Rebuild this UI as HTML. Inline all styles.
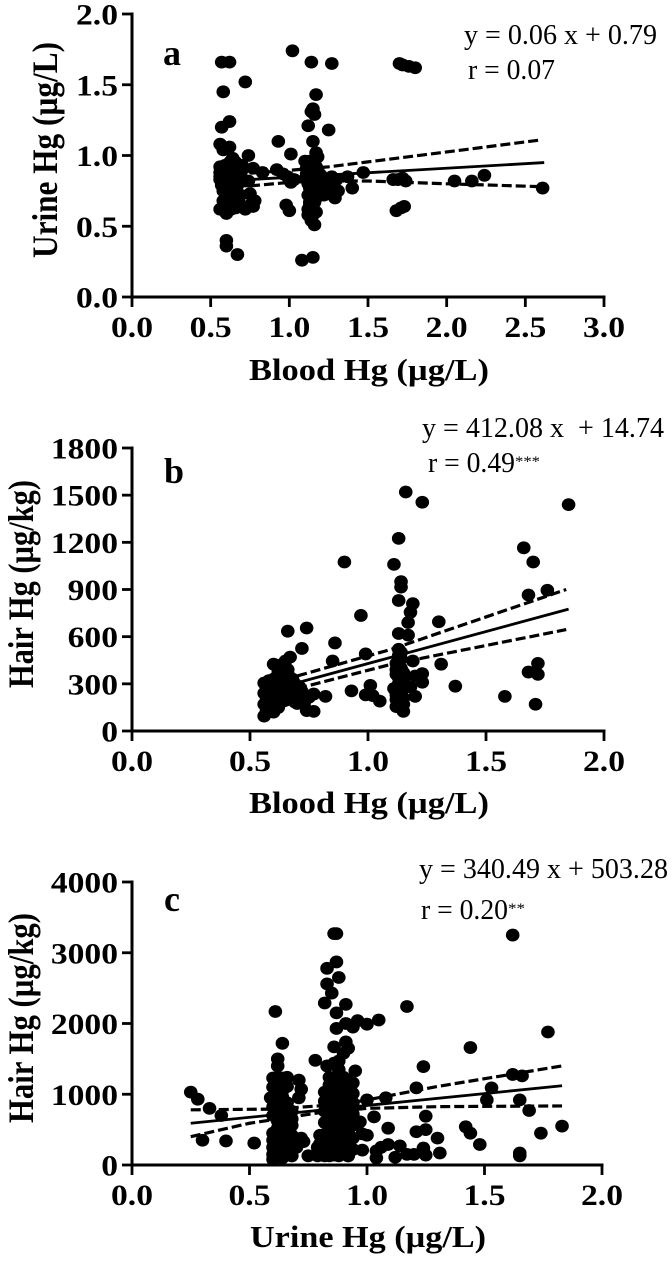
<!DOCTYPE html>
<html lang="en">
<head>
<meta charset="utf-8">
<title>Correlations of Hg in blood, urine and hair</title>
<style>
html,body{margin:0;padding:0;background:#fff;}
svg{display:block;font-family:"Liberation Serif",serif;}
</style>
</head>
<body>
<svg id="figure" xmlns="http://www.w3.org/2000/svg" width="672" height="1261" viewBox="0 0 672 1261">
<rect width="672" height="1261" fill="#fff"/>

<g id="panel-a"></g>
<g id="panel-b"></g>
<g id="panel-c"></g>

<g fill="#000" font-weight="bold">
<text x="163" y="65" font-size="36">a</text>
<text x="164" y="483" font-size="36">b</text>
<text x="164" y="911" font-size="36">c</text>
<text x="249" y="380" font-size="31" textLength="240" lengthAdjust="spacingAndGlyphs">Blood Hg (µg/L)</text>
<text x="249" y="813" font-size="31" textLength="240" lengthAdjust="spacingAndGlyphs">Blood Hg (µg/L)</text>
<text x="250" y="1247" font-size="31" textLength="236" lengthAdjust="spacingAndGlyphs">Urine Hg (µg/L)</text>
<text transform="translate(57,258) rotate(-90)" font-size="36" textLength="216" lengthAdjust="spacingAndGlyphs">Urine Hg (µg/L)</text>
<text transform="translate(33,688) rotate(-90)" font-size="36" textLength="208" lengthAdjust="spacingAndGlyphs">Hair Hg (µg/kg)</text>
<text transform="translate(33,1123) rotate(-90)" font-size="36" textLength="210" lengthAdjust="spacingAndGlyphs">Hair Hg (µg/kg)</text>
</g>

<g fill="#000" font-size="28">
<text x="464" y="44" textLength="193" lengthAdjust="spacingAndGlyphs">y = 0.06 x + 0.79</text>
<text x="468" y="79" textLength="87" lengthAdjust="spacingAndGlyphs">r = 0.07</text>
<text x="422" y="437" textLength="242" lengthAdjust="spacingAndGlyphs">y = 412.08 x&#160;&#160;+ 14.74</text>
<text x="428" y="472" textLength="87" lengthAdjust="spacingAndGlyphs">r = 0.49</text>
<text x="515" y="466" font-size="15" textLength="25" lengthAdjust="spacingAndGlyphs">***</text>
<text x="419" y="878" textLength="249" lengthAdjust="spacingAndGlyphs">y = 340.49 x + 503.28</text>
<text x="421" y="919" textLength="87" lengthAdjust="spacingAndGlyphs">r = 0.20</text>
<text x="508" y="913" font-size="15" textLength="17" lengthAdjust="spacingAndGlyphs">**</text>
</g>
</svg>

<script>
/* ---------- Panel a: blood Hg vs urine Hg ---------- */
const aBlood = [.57,.62,1.02,1.14,1.27,1.70,1.72,1.76,1.80,.72,.58,1.17,1.15,1.14,1.16,.62,.57,1.12,1.25,.56,.62,.58,.93,1.15,1.01,.74,1.17,.64,.66,.70,.56,.59,.62,.64,.67,.70,.56,.58,.60,.63,.66,.69,.56,.59,.62,.65,.68,.56,.58,.61,.64,.67,.72,.74,.77,.83,.92,.96,1.0,1.03,1.01,.99,.57,.60,.64,.66,.69,.75,.66,.58,.60,.63,.66,.69,.76,.78,.77,.56,.59,.60,.63,.66,.72,.98,1.0,.60,.60,.67,1.08,1.15,1.16,1.14,1.12,1.14,1.15,1.13,1.14,1.15,1.14,1.17,1.20,1.22,1.25,1.11,1.13,1.15,1.18,1.21,1.24,1.11,1.14,1.17,1.20,1.11,1.14,1.17,1.13,1.16,1.18,1.27,1.30,1.29,1.31,1.37,1.40,1.47,1.66,1.69,1.72,1.74,1.68,1.71,1.73,2.05,2.16,2.24,2.61,
.57,.60,.63,.66,.69,.58,.61,.64,.67,.59,.62,.65,.68,.61,.64,.67,.62,.65,.63,.60,.62,.64,.58,.66,
1.10,1.12,1.14,1.16,1.18,1.12,1.15,1.18,1.13,1.16,1.19,1.12,1.15,1.17,1.13,1.16,1.14,1.12,1.15,1.17];
const aUrine = [1.66,1.66,1.74,1.66,1.65,1.65,1.64,1.63,1.62,1.52,1.45,1.43,1.33,1.31,1.29,1.24,1.20,1.21,1.18,1.08,1.06,1.04,1.10,1.10,1.01,1.00,1.02,.98,.95,.93,.92,.93,.93,.91,.92,.90,.88,.89,.88,.88,.87,.87,.85,.85,.85,.84,.84,.83,.82,.82,.81,.81,.82,.82,.91,.88,.90,.87,.83,.83,.81,.85,.79,.78,.76,.74,.72,.73,.70,.68,.66,.67,.66,.65,.66,.68,.64,.62,.61,.59,.62,.63,.62,.65,.61,.40,.36,.30,.26,.28,.51,.54,.62,.60,.63,.65,.68,.72,.76,.79,.74,.72,.76,.83,.85,.83,.84,.82,.83,.87,.89,.87,.86,.91,.93,.92,.96,.95,.99,.85,.83,.70,.75,.85,.77,.88,.83,.83,.84,.82,.61,.63,.64,.82,.82,.86,.77,
.90,.90,.90,.90,.90,.86,.86,.86,.86,.83,.83,.83,.83,.79,.79,.79,.95,.93,.76,.72,.70,.70,.75,.77,
.96,.94,.96,.90,.90,.80,.80,.80,.77,.77,.77,.72,.72,.70,.67,.67,.63,.58,.58,.60];
const aFitX = [.75,2.62];
const aFitY = [.83,.95];
const aUpperX = [.75,1,1.25,1.5,2,2.6];
const aUpperY = [.875,.895,.92,.955,1.025,1.11];
const aLowerX = [.75,1,1.2,1.5,2,2.6];
const aLowerY = [.785,.81,.82,.82,.80,.78];
const aXTicks = ["0.0","0.5","1.0","1.5","2.0","2.5","3.0"];
const aYTicks = ["0.0","0.5","1.0","1.5","2.0"];

/* ---------- Panel b: blood Hg vs hair Hg ---------- */
const bBlood = [1.16,1.23,1.85,1.13,1.66,.90,1.11,1.70,1.14,1.14,1.13,1.19,1.18,1.76,1.68,.97,1.17,1.30,.66,.74,1.13,1.17,.72,.86,.85,.99,1.19,1.31,1.37,1.58,1.72,1.68,1.72,1.71,1.23,1.20,1.23,1.16,1.20,1.01,.93,.99,1.02,1.05,.82,.77,.74,.77,1.13,1.13,1.13,1.14,1.12,1.15,1.13,1.12,1.15,1.12,1.14,1.15,1.15,.56,.57,.56,.57,.56,.57,.56,.58,.59,.59,.59,.59,.60,.61,.61,.61,.61,.61,.60,.63,.62,.64,.64,.64,.64,.64,.65,.67,.66,.67,.67,.67,.67,.70,.70,.69,.72,.73,.69,
.58,.60,.62,.58,.60,.62,.65,.58,.60,.62,.65,.68,.60,.63,.66,.63,.65,.62,.60,.58,.72,.75,.71,.68,.70,
1.12,1.14,1.15,1.11,1.14,1.18,1.12,1.14,1.13,1.12];
const bHair = [1520,1455,1440,1225,1165,1075,1060,1075,950,915,830,810,755,895,865,735,690,695,635,655,620,610,525,560,445,490,445,425,285,220,430,375,360,170,365,350,310,280,220,290,255,230,225,190,220,235,130,125,520,480,440,400,360,330,300,230,210,155,145,125,170,95,130,170,200,240,270,305,320,290,250,210,170,140,180,220,260,300,340,425,420,380,350,310,270,230,190,445,470,390,340,300,250,210,200,250,300,215,180,185,
280,280,280,235,235,235,235,190,195,195,195,230,330,320,320,390,370,150,120,150,250,215,280,330,175,
390,460,370,270,240,280,430,500,340,200];
const bFitX = [.71,1.85];
const bFitY = [311,775];
const bUpperX = [.7,1.1,1.84];
const bUpperY = [350,520,900];
const bLowerX = [.7,1.1,1.84];
const bLowerY = [270,425,645];
const bZeroX = [.56,2];
const bZeroY = [5,5];
const bXTicks = ["0.0","0.5","1.0","1.5","2.0"];
const bYTicks = ["0","300","600","900","1200","1500","1800"];

/* ---------- Panel c: urine Hg vs hair Hg ---------- */
const cUrine = [.25,.28,.33,.38,.30,.40,.52,.61,.64,.62,.62,.78,.87,.86,.87,.83,.88,.83,.85,.82,.91,.87,.96,.91,.94,.87,1.0,1.05,1.17,1.62,1.77,1.44,.91,.92,.86,.90,.88,.83,.95,1.24,1.62,1.66,1.21,1.53,1.51,1.65,1.69,1.08,1.0,1.25,1.83,1.74,1.42,1.44,1.48,1.65,1.65,1.31,1.30,1.25,1.21,1.09,1.24,1.25,1.20,1.17,1.14,1.12,1.09,1.06,1.04,1.04,.98,1.0,.98,1.03,.97,.92,
.71,.72,.71,.59,.68,.70,.73,.75,.68,.72,
.60,.60,.60,.60,.60,.60,.60,.60,.60,.60,
.62,.62,.62,.62,.62,.62,.62,.62,.62,.62,.62,.62,.62,.62,
.64,.64,.64,.64,.64,.64,.64,.64,.64,.64,.64,.64,.64,.64,
.66,.66,.66,.66,.66,.66,.66,.66,.66,.66,
.68,.68,.68,.68,.68,.68,.68,
.80,.80,.80,.79,.79,.81,
.82,.82,.82,.82,.82,.82,.82,.82,
.84,.84,.84,.84,.84,.84,.84,.84,.84,.84,.84,.84,
.86,.86,.86,.86,.86,.86,.86,.86,.86,.86,.86,.86,.86,
.88,.88,.88,.88,.88,.88,.88,.88,.88,.88,.88,.88,.88,
.90,.90,.90,.90,.90,.90,.90,.90,.90,.90,.90,.90,
.92,.92,.92,.92,.92,.92,.92,.92,
.94,.94,.94,.94,.94,.94,.94];
const cHair = [1030,930,800,700,350,340,310,2170,1720,1500,1400,1480,3270,3270,2870,2780,2650,2560,2430,2290,2270,2150,2040,2000,1950,1930,1990,2050,2240,3250,1880,1660,1740,1650,1670,1580,1470,1400,1330,1390,1280,1260,1090,1090,920,920,770,950,920,690,550,450,540,450,290,170,130,170,380,500,470,520,240,140,150,150,270,110,290,250,200,100,210,420,440,680,610,130,
1200,1070,950,950,130,250,330,130,400,380,
80,150,250,350,450,700,820,950,1100,1230,
130,220,310,420,520,620,700,780,860,940,1020,1100,1180,1240,
100,190,280,370,470,560,640,720,800,880,960,1050,1140,1230,
140,240,340,640,720,800,880,540,1240,1110,
130,220,320,420,560,650,760,
200,300,420,130,250,350,
130,220,320,430,600,760,900,1030,
130,220,320,420,520,620,720,820,920,1020,1130,1240,
140,240,340,440,540,640,740,840,940,1040,1140,1230,1440,
130,230,330,430,530,630,730,830,930,1030,1130,1240,1350,
180,280,380,480,580,680,780,880,980,1080,1180,1240,
130,300,450,600,750,900,1050,1200,
220,380,560,720,880,1010,1160];
const cFitX = [.25,1.83];
const cFitY = [590,1120];
const cUpperX = [.25,.6,.9,1,1.3,1.83];
const cUpperY = [780,790,860,920,1110,1400];
const cLowerX = [.25,.5,.8,1,1.3,1.83];
const cLowerY = [400,590,740,800,825,835];
const cXTicks = ["0.0","0.5","1.0","1.5","2.0"];
const cYTicks = ["0","1000","2000","3000","4000"];

const NS = "http://www.w3.org/2000/svg";

function drawPanel(id, x0, x1, yBase, yTop, xMax, yMax, xTicks, yTicks, xs, ys, series, xLabelY) {
  const root = document.getElementById(id);
  const sx = v => x0 + (v / xMax) * (x1 - x0);
  const sy = v => yBase - (v / yMax) * (yBase - yTop);

  for (let i = 0; i < xs.length; i++) {
    const dot = document.createElementNS(NS, "ellipse");
    
    
    dot.setAttribute("cx", sx(xs[i]));
    dot.setAttribute("cy", sy(ys[i]));
    dot.setAttribute("rx", 6.8);
    dot.setAttribute("ry", 6.4);
    dot.setAttribute("fill", "#000");
    root.appendChild(dot);
  }

  series.forEach(s => {
    const line = document.createElementNS(NS, "polyline");
    
    
    line.setAttribute("points", s.x.map((v, i) => sx(v) + "," + sy(s.y[i])).join(" "));
    line.setAttribute("fill", "none");
    line.setAttribute("stroke", s.color || "#000");
    line.setAttribute("stroke-width", s.w);
    if (s.dash) line.setAttribute("stroke-dasharray", s.dash);
    root.appendChild(line);
  });

  const yAxis = document.createElementNS(NS, "line");
  
  
  yAxis.setAttribute("x1", x0);
  yAxis.setAttribute("x2", x0);
  yAxis.setAttribute("y1", yTop - 1.5);
  yAxis.setAttribute("y2", yBase + 1.5);
  yAxis.setAttribute("stroke", "#000");
  yAxis.setAttribute("stroke-width", 3);
  root.appendChild(yAxis);

  const xAxis = document.createElementNS(NS, "line");
  
  
  xAxis.setAttribute("x1", x0);
  xAxis.setAttribute("x2", x1 + 1.5);
  xAxis.setAttribute("y1", yBase);
  xAxis.setAttribute("y2", yBase);
  xAxis.setAttribute("stroke", "#000");
  xAxis.setAttribute("stroke-width", 3);
  root.appendChild(xAxis);

  xTicks.forEach((label, i) => {
    const px = x0 + i * (x1 - x0) / (xTicks.length - 1);
    const tick = document.createElementNS(NS, "line");
    
    
    tick.setAttribute("x1", px);
    tick.setAttribute("x2", px);
    tick.setAttribute("y1", yBase);
    tick.setAttribute("y2", yBase + 10);
    tick.setAttribute("stroke", "#000");
    tick.setAttribute("stroke-width", 2.8);
    root.appendChild(tick);
    const text = document.createElementNS(NS, "text");
    
    
    text.setAttribute("transform", "translate(" + px + "," + xLabelY + ") scale(1.12,1)");
    text.setAttribute("text-anchor", "middle");
    text.setAttribute("font-size", 30);
    text.setAttribute("font-weight", "bold");
    text.textContent = label;
    root.appendChild(text);
  });

  yTicks.forEach((label, i) => {
    const py = yBase - i * (yBase - yTop) / (yTicks.length - 1);
    const tick = document.createElementNS(NS, "line");
    
    
    tick.setAttribute("x1", x0 - 10);
    tick.setAttribute("x2", x0);
    tick.setAttribute("y1", py);
    tick.setAttribute("y2", py);
    tick.setAttribute("stroke", "#000");
    tick.setAttribute("stroke-width", 2.8);
    root.appendChild(tick);
    const text = document.createElementNS(NS, "text");
    
    
    text.setAttribute("transform", "translate(" + (x0 - 14) + "," + (py + 10.5) + ") scale(1.12,1)");
    text.setAttribute("text-anchor", "end");
    text.setAttribute("font-size", 30);
    text.setAttribute("font-weight", "bold");
    text.textContent = label;
    root.appendChild(text);
  });
}

drawPanel("panel-a", 132, 604, 297, 14, 3, 2, aXTicks, aYTicks, aBlood, aUrine, [
  {name:"panel-a-fit-line", x:aFitX, y:aFitY, w:2.8},
  {name:"panel-a-upper-confidence-band", x:aUpperX, y:aUpperY, w:3.2, dash:"10 4"},
  {name:"panel-a-lower-confidence-band", x:aLowerX, y:aLowerY, w:3.2, dash:"10 4"}
], 337);

drawPanel("panel-b", 132, 604, 731, 448, 2, 1800, bXTicks, bYTicks, bBlood, bHair, [
  {name:"panel-b-fit-line", x:bFitX, y:bFitY, w:2.8},
  {name:"panel-b-upper-confidence-band", x:bUpperX, y:bUpperY, w:3.2, dash:"10 4"},
  {name:"panel-b-lower-confidence-band", x:bLowerX, y:bLowerY, w:3.2, dash:"10 4"},
  {name:"panel-b-zero-dashed-line", x:bZeroX, y:bZeroY, w:1.5, dash:"6 2", color:"#555"}
], 771);

drawPanel("panel-c", 132, 602, 1165, 882, 2, 4000, cXTicks, cYTicks, cUrine, cHair, [
  {name:"panel-c-fit-line", x:cFitX, y:cFitY, w:2.8},
  {name:"panel-c-upper-confidence-band", x:cUpperX, y:cUpperY, w:3.2, dash:"10 4"},
  {name:"panel-c-lower-confidence-band", x:cLowerX, y:cLowerY, w:3.2, dash:"10 4"}
], 1205);
</script>
</body>
</html>
